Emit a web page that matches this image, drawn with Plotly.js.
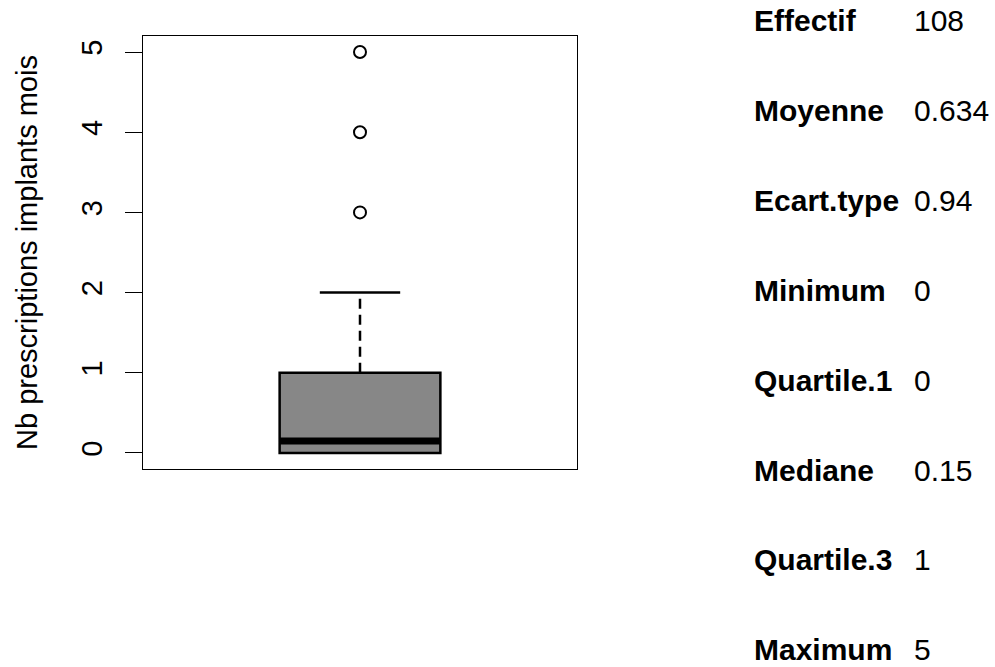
<!DOCTYPE html>
<html>
<head>
<meta charset="utf-8">
<script src="https://cdn.plot.ly/plotly-3.0.1.min.js"></script>
<style>html,body{margin:0;padding:0;background:#fff;}#chart{width:995px;height:667px;}</style>
</head>
<body>
<div id="chart"></div>
<script>
// ---- data ----
const boxQ1 = [0];
const boxMedian = [0.15];
const boxQ3 = [1];
const whiskerLow = [0];
const whiskerHigh = [2];
const outliers = [3, 4, 5];
const yTicks = [0, 1, 2, 3, 4, 5];
const statLabels = ["Effectif", "Moyenne", "Ecart.type", "Minimum", "Quartile.1", "Mediane", "Quartile.3", "Maximum"];
const statValues = ["108", "0.634", "0.94", "0", "0", "0.15", "1", "5"];
const yTitle = "Nb prescriptions implants mois";

// ---- geometry ----
const W = 995, H = 667;
const mL = 143, mR = 995 - 577, mT = 36, mB = 667 - 469;
const plotH = H - mT - mB, plotW = W - mL - mR;
const xc = 1, halfBox = 0.2, halfCap = 0.1;
const FONT = "Liberation Sans, Arial, sans-serif";
const FS_AX = 29, FS_TAB = 30;

const traces = [
  {
    type: "box", x: [xc], q1: boxQ1, median: boxMedian, q3: boxQ3,
    lowerfence: boxQ1, upperfence: boxQ3, width: 2 * halfBox, whiskerwidth: 0,
    fillcolor: "#878787", line: {color: "#000", width: 2.5},
    boxpoints: false, hoverinfo: "skip", showlegend: false
  },
  { // dashed upper whisker
    type: "scatter", mode: "lines", x: [xc, xc], y: [boxQ3[0], whiskerHigh[0]],
    line: {color: "#000", width: 2.5, dash: "10px,6px"}, showlegend: false, hoverinfo: "skip"
  },
  { // dashed lower whisker (zero length here)
    type: "scatter", mode: "lines", x: [xc, xc], y: [boxQ1[0], whiskerLow[0]],
    line: {color: "#000", width: 2.5, dash: "10px,6px"}, showlegend: false, hoverinfo: "skip"
  },
  { // upper cap
    type: "scatter", mode: "lines", x: [xc - halfCap, xc + halfCap], y: [whiskerHigh[0], whiskerHigh[0]],
    line: {color: "#000", width: 2.5}, showlegend: false, hoverinfo: "skip"
  },
  { // thick median
    type: "scatter", mode: "lines", x: [xc - halfBox, xc + halfBox], y: [boxMedian[0], boxMedian[0]],
    line: {color: "#000", width: 7}, showlegend: false, hoverinfo: "skip"
  },
  { // outliers
    type: "scatter", mode: "markers", x: outliers.map(() => xc), y: outliers,
    marker: {symbol: "circle-open", size: 12, color: "#000", line: {width: 2, color: "#000"}},
    showlegend: false, hoverinfo: "skip"
  }
];

const annotations = [];
const rowTop = 21, rowStep = 89.8;
statLabels.forEach((lab, i) => {
  const ypx = rowTop + i * rowStep;
  const yp = (H - mB - ypx) / plotH;
  annotations.push({
    xref: "paper", yref: "paper", x: (752 - mL) / plotW, y: yp,
    xanchor: "left", yanchor: "middle", showarrow: false,
    text: "<b>" + lab + "</b>", font: {family: FONT, size: FS_TAB, color: "#000"}
  });
  annotations.push({
    xref: "paper", yref: "paper", x: (912 - mL) / plotW, y: yp,
    xanchor: "left", yanchor: "middle", showarrow: false,
    text: statValues[i], font: {family: FONT, size: FS_TAB, color: "#000"}
  });
});

const layout = {
  width: W, height: H,
  margin: {l: mL, r: mR, t: mT, b: mB, pad: 0},
  paper_bgcolor: "#fff", plot_bgcolor: "#fff",
  font: {family: FONT, size: FS_AX, color: "#000"},
  xaxis: {
    range: [0.46, 1.54], showticklabels: false, ticks: "", showgrid: false, zeroline: false,
    showline: true, mirror: true, linecolor: "#000", linewidth: 1
  },
  yaxis: {
    range: [-0.2, 5.2], tickvals: yTicks, ticktext: yTicks.map(String),
    ticks: "outside", ticklen: 17, tickwidth: 1, tickcolor: "#000", tickangle: -90,
    ticklabelstandoff: 11,
    tickfont: {family: FONT, size: FS_AX, color: "#000"},
    showgrid: false, zeroline: false, showline: true, mirror: true, linecolor: "#000", linewidth: 1,
    title: {text: yTitle, font: {family: FONT, size: FS_AX, color: "#000"}, standoff: 30}
  },
  annotations: annotations,
  showlegend: false
};

Plotly.newPlot("chart", traces, layout, {displayModeBar: false, staticPlot: true});
</script>
</body>
</html>
